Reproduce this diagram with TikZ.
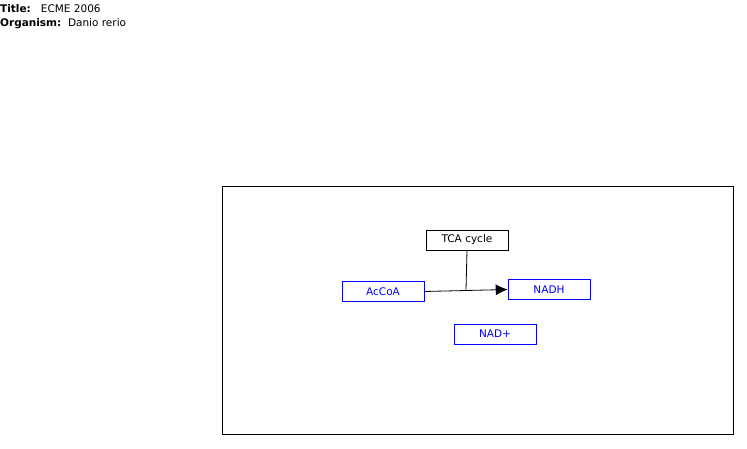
\documentclass[tikz,border=0pt]{standalone}
\usepackage{fontspec}
\setmainfont{DejaVu Sans}
\usetikzlibrary{arrows.meta,positioning}

\begin{document}
\begin{tikzpicture}[
  x=1pt, y=-1pt,
  font=\fontsize{10.5}{12}\selectfont,
  gene/.style={draw=blue, text=blue, minimum width=82pt, minimum height=20pt,
               inner sep=0pt, line width=0.6pt},
  path/.style={draw=black, minimum width=82pt, minimum height=20pt,
               inner sep=0pt, line width=0.6pt},
  arr/.style={-{Latex[length=12pt,width=11pt]}, line width=0.8pt}
]
\useasboundingbox (0,0) rectangle (747,449);
% header
\node[anchor=north west, inner sep=0pt] (title) at (0,4)
  {\textbf{Title:}\ \ \ ECME 2006};
\node[anchor=north west, inner sep=0pt] (org) at (0,18)
  {\textbf{Organism:}\ \ Danio rerio};
% frame
\draw[line width=0.6pt] (222,186) rectangle (733,434);
% nodes
\node[path] (tca)  at (467,240) {TCA cycle};
\node[gene] (acc)  at (383,291.5) {AcCoA};
\node[gene] (nadh) at (549,289.5) {NADH};
\node[gene] (nad)  at (495,334) {NAD+};
\coordinate (mid) at (466,290.2);
% edges
\draw[arr] (acc.east) -- (nadh.west);
\draw[line width=0.8pt] (tca.south) -- (mid);
\end{tikzpicture}
\end{document}
